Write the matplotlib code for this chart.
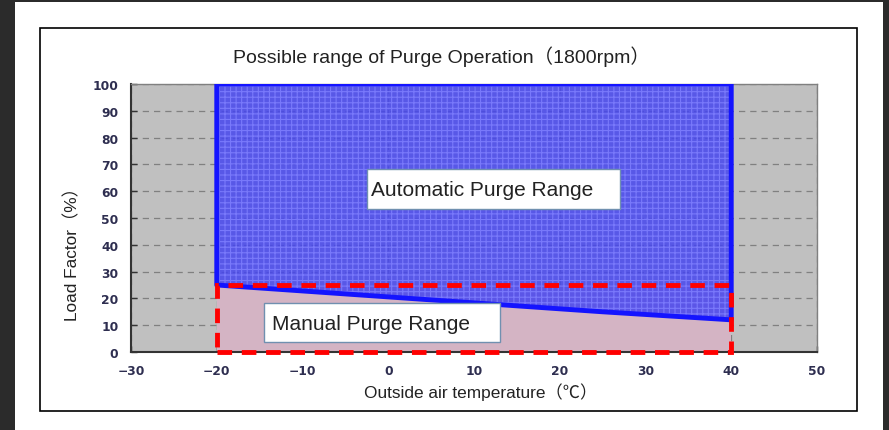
import matplotlib
matplotlib.use("Agg")
import matplotlib.pyplot as plt
from matplotlib.patches import Rectangle, Polygon

plt.rcParams["font.family"] = ["Liberation Sans", "Noto Sans CJK JP", "DejaVu Sans"]
plt.rcParams["hatch.linewidth"] = 0.8

# data
auto_x = [-20, -20, 40, 40, 25, -20]
auto_y = [25, 100, 100, 12, 15, 25]
manual_x = [-20, 40]
manual_y = [0, 25]
xticks = [-30, -20, -10, 0, 10, 20, 30, 40, 50]
yticks = [0, 10, 20, 30, 40, 50, 60, 70, 80, 90, 100]

W, H = 889, 431
fig = plt.figure(figsize=(W / 100, H / 100), dpi=100, facecolor="#2b2b2b")

# white page and inner frame
fig.patches.append(Rectangle((15 / W, 0), (883 - 15) / W, (H - 3) / H,
                             transform=fig.transFigure, facecolor="white",
                             edgecolor="none", zorder=-3))
fig.patches.append(Rectangle((40 / W, (H - 412) / H), (857 - 40) / W, (412 - 29) / H,
                             transform=fig.transFigure, facecolor="white",
                             edgecolor="black", linewidth=1.2, zorder=-2))

ax = fig.add_axes([131 / W, (H - 353) / H, (817 - 131) / W, (353 - 85) / H])
ax.set_facecolor("#c0c0c0")
ax.set_xlim(-30, 50)
ax.set_ylim(0, 100)
ax.set_xticks(xticks)
ax.set_yticks(yticks)
ax.set_xticklabels([str(v).replace("-", "\u2212") for v in xticks])
ax.tick_params(length=4, width=1, color="#333333")
for lab in ax.get_xticklabels() + ax.get_yticklabels():
    lab.set_fontfamily("DejaVu Sans")
    lab.set_fontweight("bold")
    lab.set_fontsize(8.8)
    lab.set_color("#2e2e50")
ax.tick_params(axis="y", direction="in", pad=9)
ax.tick_params(axis="x", direction="in", pad=9)
ax.grid(True, linestyle=(0, (5, 4)), color="#808080", linewidth=0.9)
ax.set_axisbelow(True)
for side in ["top", "right"]:
    ax.spines[side].set_color("#808080")
    ax.spines[side].set_linewidth(1)
for side in ["left", "bottom"]:
    ax.spines[side].set_color("#333333")
    ax.spines[side].set_linewidth(1.5)

# manual region
ax.add_patch(Rectangle((manual_x[0], manual_y[0]), manual_x[1] - manual_x[0],
                       manual_y[1] - manual_y[0], facecolor="#d4b4c4",
                       edgecolor="none", zorder=2))

# automatic region
ax.add_patch(Polygon(list(zip(auto_x, auto_y)), closed=True, facecolor="#4646ee",
                     edgecolor="#8080ff", hatch="+++", alpha=0.85, linewidth=0,
                     zorder=3))
ax.add_patch(Polygon(list(zip(auto_x, auto_y)), closed=True, facecolor="none",
                     edgecolor="#1414ff", linewidth=3.5, joinstyle="round", zorder=4))

ax.add_patch(Rectangle((manual_x[0], manual_y[0]), manual_x[1] - manual_x[0],
                       manual_y[1] - manual_y[0], facecolor="none",
                       edgecolor="#ff0000", linewidth=3.5, linestyle=(0, (3, 2)),
                       clip_on=False, zorder=5))

# label boxes
ax.add_patch(Rectangle((-2.5, 53.4), 29.5, 14.9, facecolor="white",
                       edgecolor="#7090b0", linewidth=1, zorder=6))
ax.text(-2.0, 60.8, "Automatic Purge Range", fontsize=15, color="#222222",
        va="center", ha="left", zorder=7)
ax.add_patch(Rectangle((-14.5, 3.7), 27.5, 14.6, facecolor="white",
                       edgecolor="#7090b0", linewidth=1, zorder=6))
ax.text(-13.6, 10.8, "Manual Purge Range", fontsize=15, color="#222222",
        va="center", ha="left", zorder=7)

fig.text(441 / W, 1 - 57 / H, "Possible range of Purge Operation（1800rpm）",
         fontsize=14, color="#222222", ha="center", va="center")
fig.text(481 / W, 1 - 392 / H, "Outside air temperature（℃）",
         fontsize=12.4, color="#222222", ha="center", va="center")
fig.text(72 / W, 1 - 250 / H, "Load Factor（%）", fontsize=12.4,
         color="#222222", ha="center", va="center", rotation=90)

fig.savefig("out.png", dpi=100, facecolor=fig.get_facecolor())
